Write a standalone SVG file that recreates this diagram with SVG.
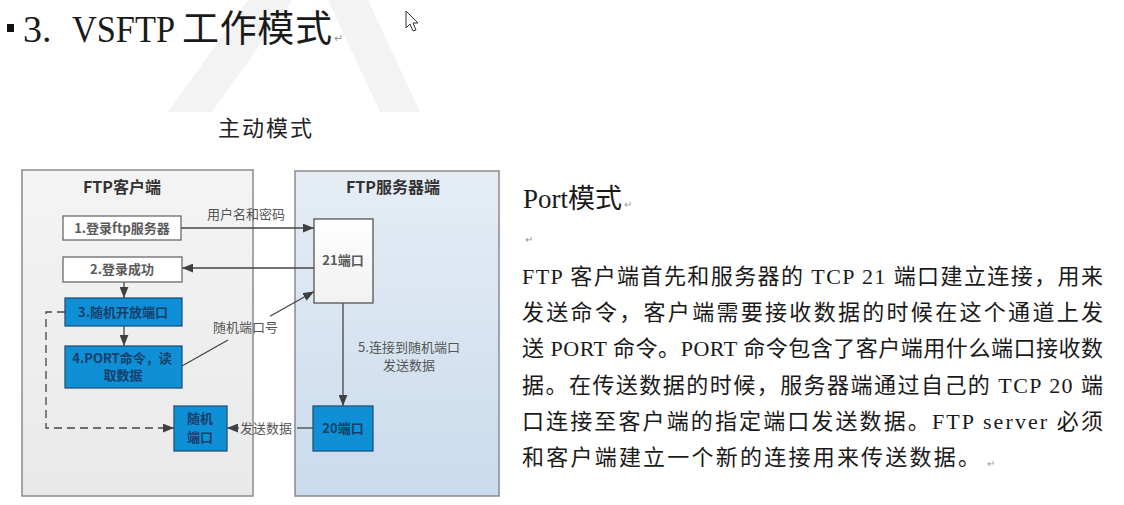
<svg xmlns="http://www.w3.org/2000/svg" width="1124" height="505" viewBox="0 0 1124 505">
<defs>
<style>
.serif{font-family:"Liberation Serif","Noto Sans CJK SC",serif;fill:#1a1a1a}
.sans{font-family:"Noto Sans CJK SC","Liberation Sans",sans-serif}
.lbl{font-family:"Noto Sans CJK SC","Liberation Sans",sans-serif;font-size:13px;fill:#555}
.blbl{font-family:"Noto Sans CJK SC","Liberation Sans",sans-serif;font-size:13px;fill:#17406a;font-weight:bold}
.glbl{font-family:"Noto Sans CJK SC","Liberation Sans",sans-serif;font-size:13px;fill:#5a5a5a;font-weight:bold}
.title{font-family:"Noto Sans CJK SC","Liberation Sans",sans-serif;font-size:16px;font-weight:bold;fill:#333}
.wbox{fill:#ffffff;stroke:#6a6a6a;stroke-width:1.3}
.bbox{fill:#0e8fd6;stroke:#24527a;stroke-width:1.3}
.conn{stroke:#444;stroke-width:1.3;fill:none}
.mark{font-family:"Liberation Sans",sans-serif;fill:#9a9a9a}
.para{font-size:22px}
</style>
<marker id="ah" viewBox="0 0 10 8" refX="10" refY="4" markerUnits="userSpaceOnUse" markerWidth="11" markerHeight="9" orient="auto">
<path d="M0,0 L10,4 L0,8 z" fill="#404040"/>
</marker>
<linearGradient id="srv" x1="0" y1="0" x2="0" y2="1">
<stop offset="0" stop-color="#e6edf5"/>
<stop offset="1" stop-color="#c9dbec"/>
</linearGradient>
<linearGradient id="cli" x1="0" y1="0" x2="0" y2="1">
<stop offset="0" stop-color="#f4f4f4"/>
<stop offset="1" stop-color="#e9e9e9"/>
</linearGradient>
<linearGradient id="p21" x1="0" y1="0" x2="0" y2="1">
<stop offset="0" stop-color="#ffffff"/>
<stop offset="1" stop-color="#f1f1f1"/>
</linearGradient>
</defs>
<rect width="1124" height="505" fill="#ffffff"/>
<!-- watermark -->
<g fill="#f3f3f3">
<polygon points="248,0 292,0 212,112 168,112"/>
<polygon points="328,0 368,0 420,112 380,112"/>
</g>
<!-- cursor -->
<path d="M406,11 L406,28 L410,24 L413,31 L416,30 L413,23 L418,23 Z" fill="#ffffff" stroke="#333" stroke-width="1"/>
<!-- heading -->
<g id="heading">
<rect x="7" y="24" width="7" height="8" fill="#111"/>
<text class="serif" x="23" y="42" font-size="38">3.</text>
<text class="serif" x="72" y="42" font-size="38" textLength="103" lengthAdjust="spacingAndGlyphs">VSFTP</text>
<text class="serif" x="182" y="42" font-size="37" textLength="150">工作模式</text>
<text class="mark" x="334" y="42" font-size="11">↵</text>
</g>
<text id="subtitle" class="sans" x="218" y="136" font-size="22" fill="#222" textLength="94">主动模式</text>
<!-- panels -->
<g id="client-panel">
<rect x="22" y="170" width="231" height="326" fill="url(#cli)" stroke="#8a8a8a" stroke-width="1.5"/>
<text class="title" x="122" y="193" text-anchor="middle">FTP客户端</text>
</g>
<g id="server-panel">
<rect x="295" y="171" width="204" height="325" fill="url(#srv)" stroke="#8a8a8a" stroke-width="1.5"/>
<text class="title" x="393" y="193" text-anchor="middle">FTP服务器端</text>
</g>
<!-- connectors -->
<g id="connectors">
<line class="conn" x1="181" y1="228" x2="314" y2="228" marker-end="url(#ah)"/>
<text class="lbl" x="207" y="219">用户名和密码</text>
<line class="conn" x1="314" y1="268" x2="182" y2="268" marker-end="url(#ah)"/>
<line class="conn" x1="124" y1="282" x2="124" y2="298" marker-end="url(#ah)"/>
<line class="conn" x1="124" y1="326" x2="124" y2="346" marker-end="url(#ah)"/>
<line class="conn" x1="182" y1="366" x2="228" y2="340"/>
<line class="conn" x1="270" y1="316.3" x2="314" y2="291.5" marker-end="url(#ah)"/>
<text class="lbl" x="213" y="332" font-size="12">随机端口号</text>
<line class="conn" x1="343" y1="303" x2="343" y2="406" marker-end="url(#ah)"/>
<text class="lbl" x="409" y="352" text-anchor="middle" font-size="13.5">5.连接到随机端口</text>
<text class="lbl" x="409" y="370" text-anchor="middle" font-size="13.5">发送数据</text>
<line class="conn" x1="313" y1="428" x2="297" y2="428"/>
<line class="conn" x1="239" y1="428" x2="227" y2="428" marker-end="url(#ah)"/>
<text class="lbl" x="240" y="433">发送数据</text>
<polyline class="conn" points="65,312 46,312 46,428 174,428" stroke-dasharray="8 5" stroke-width="1.5" marker-end="url(#ah)"/>
</g>
<!-- nodes -->
<g id="n1">
<rect class="wbox" x="63" y="216" width="118" height="24"/>
<text class="glbl" x="122" y="233" text-anchor="middle">1.登录ftp服务器</text>
</g>
<g id="n2">
<rect class="wbox" x="63" y="257" width="119" height="25"/>
<text class="glbl" x="122" y="274" text-anchor="middle">2.登录成功</text>
</g>
<g id="n3">
<rect class="bbox" x="65" y="298" width="117" height="28"/>
<text class="blbl" x="123" y="317" text-anchor="middle">3.随机开放端口</text>
</g>
<g id="n4">
<rect class="bbox" x="65" y="346" width="117" height="42"/>
<text class="blbl" x="122" y="363" text-anchor="middle">4.PORT命令，读</text>
<text class="blbl" x="123" y="380" text-anchor="middle">取数据</text>
</g>
<g id="nrand">
<rect class="bbox" x="174" y="406" width="53" height="45"/>
<text class="blbl" x="200" y="423" text-anchor="middle">随机</text>
<text class="blbl" x="200" y="442" text-anchor="middle">端口</text>
</g>
<g id="n21">
<rect x="314" y="219" width="59" height="84" fill="url(#p21)" stroke="#555" stroke-width="1.3"/>
<text class="glbl" x="343" y="265" text-anchor="middle">21端口</text>
</g>
<g id="n20">
<rect class="bbox" x="313" y="406" width="60" height="45"/>
<text class="blbl" x="343" y="433" text-anchor="middle">20端口</text>
</g>
<!-- right text -->
<g id="port-text">
<text class="serif" x="523" y="208" font-size="27">Port模式</text>
<text class="mark" x="624" y="208" font-size="10">↵</text>
<text class="mark" x="525" y="243" font-size="10">↵</text>
<text class="serif para" x="522" y="284" textLength="581">FTP 客户端首先和服务器的 TCP 21 端口建立连接，用来</text>
<text class="serif para" x="522" y="320" textLength="581">发送命令，客户端需要接收数据的时候在这个通道上发</text>
<text class="serif para" x="522" y="356" textLength="581">送 PORT 命令。PORT 命令包含了客户端用什么端口接收数</text>
<text class="serif para" x="522" y="393" textLength="581">据。在传送数据的时候，服务器端通过自己的 TCP 20 端</text>
<text class="serif para" x="522" y="429" textLength="581">口连接至客户端的指定端口发送数据。FTP server 必须</text>
<text class="serif para" x="522" y="465" textLength="458">和客户端建立一个新的连接用来传送数据。</text>
<text class="mark" x="987" y="467" font-size="10">↵</text>
</g>
</svg>
